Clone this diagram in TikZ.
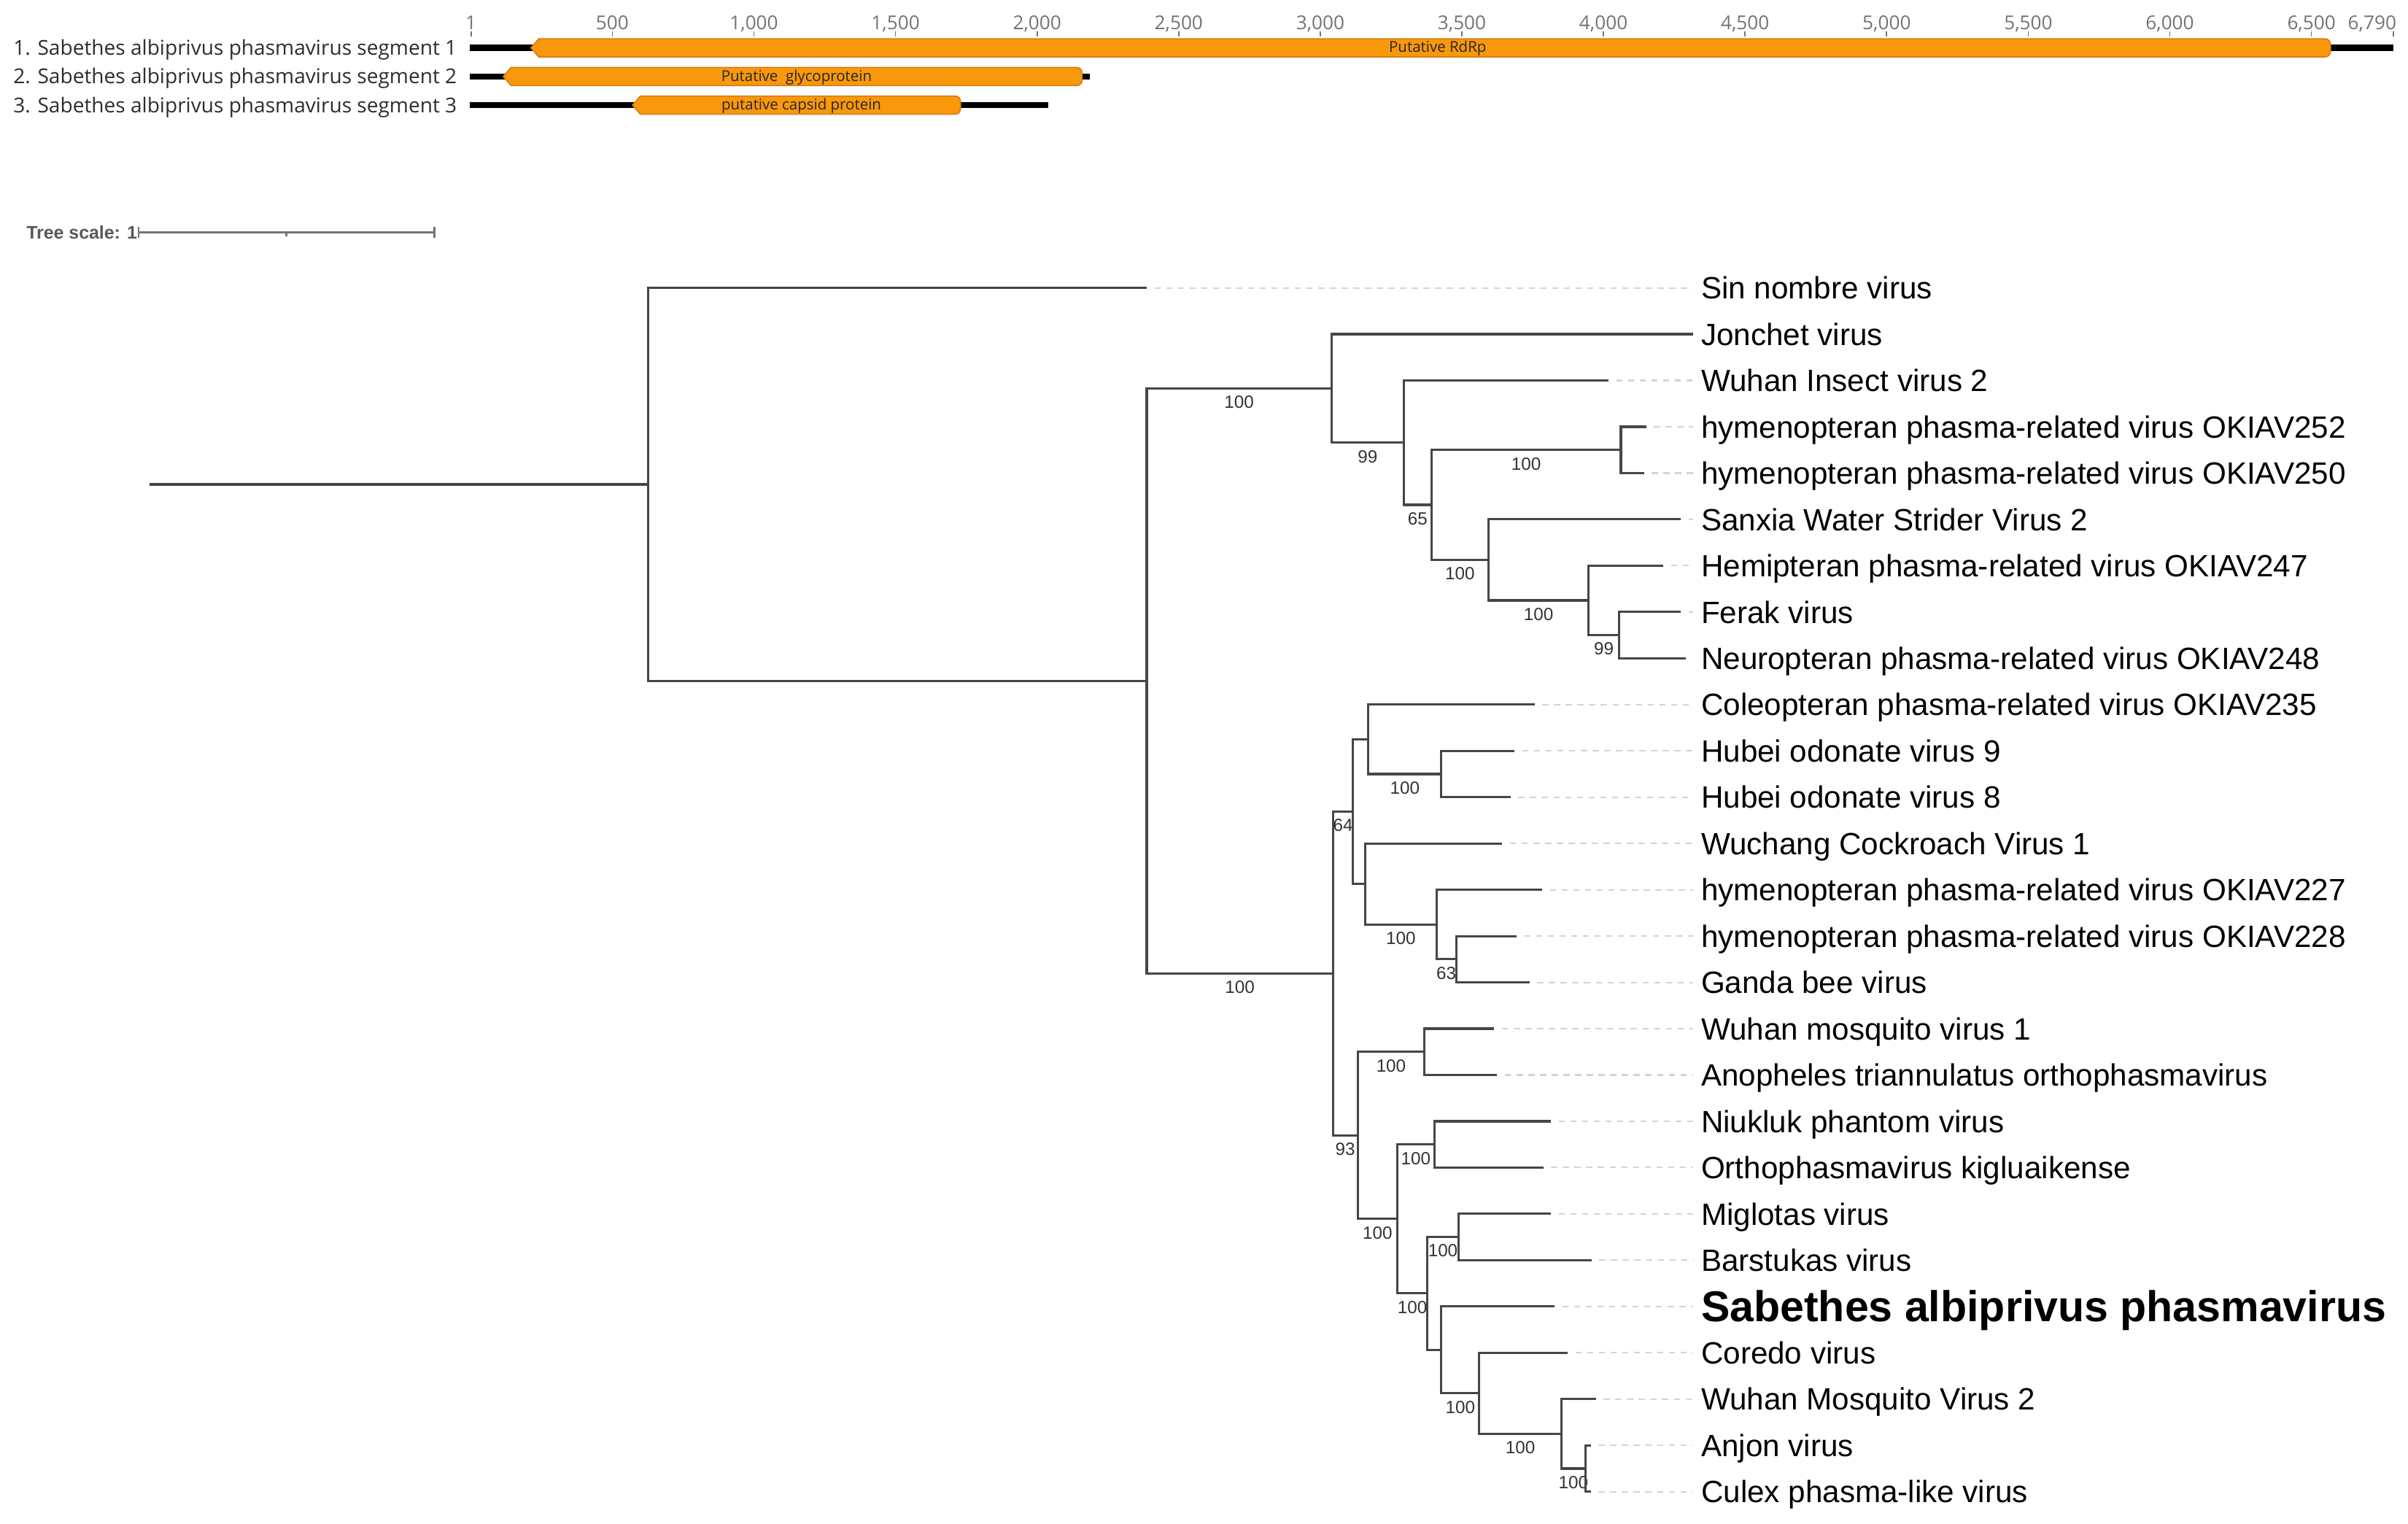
\documentclass[tikz,border=0pt]{standalone}
\usepackage{fontspec}
\setmainfont{Liberation Sans}
\newfontfamily\osans{Open Sans}
\definecolor{orf}{RGB}{248,152,10}
\definecolor{orfedge}{RGB}{215,128,20}
\definecolor{branchc}{RGB}{70,70,70}
\definecolor{leadc}{RGB}{212,212,212}
\definecolor{axisc}{RGB}{115,115,115}
\definecolor{segtext}{RGB}{45,45,45}
\tikzset{
  branch/.style={draw=branchc, line width=1.5pt},
  leader/.style={draw=leadc, line width=1pt, dash pattern=on 4pt off 3.6pt, shorten <=5pt, shorten >=5pt},
  leaf/.style={anchor=base west, inner sep=0pt, font=\fontsize{20}{24}\selectfont, yshift=-7.2pt},
  leafbold/.style={anchor=base west, inner sep=0pt, font=\fontsize{28}{32}\selectfont\bfseries, yshift=-10pt},
  boot/.style={pos=0.75, font=\fontsize{11.5}{13}\selectfont, text=black!80, inner sep=0pt, anchor=center, yshift=-9pt},
  seglab/.style={anchor=base east, inner sep=0pt, font=\osans\fontsize{13.3}{15}\selectfont, text=segtext, yshift=-4.7pt},
  segline/.style={draw=black, line width=4pt},
  orfbox/.style={fill=orf, draw=orfedge, line width=0.8pt},
  orflab/.style={inner sep=0pt, font=\osans\fontsize{9.7}{11}\selectfont, text=black!85},
  axlab/.style={anchor=base, inner sep=0pt, font=\osans\fontsize{12.4}{14}\selectfont, text=axisc},
  axtick/.style={draw=axisc, line width=0.8pt},
  scalelab/.style={anchor=west, inner sep=0pt, font=\fontsize{11.8}{13}\selectfont\bfseries, text=black!65},
  scalebar/.style={draw=black!55, line width=1.4pt}
}
\newcommand\leafd[3]{%
  \coordinate (t#1) at (#2,{187+#1*30.077});
  \node[leaf] (l#1) at (1105,{187+#1*30.077}) {#3};
  \draw[leader] (t#1) -- (t#1 -| l#1.west);}
\begin{document}
\begin{tikzpicture}[x=1pt,y=-1pt]
\useasboundingbox (0,0) rectangle (1564.4,990);

% ---------------- genome map ----------------
\foreach \v/\t/\an in {1/1/base, 500/500/base, 1000/{1,000}/base, 1500/{1,500}/base, 2000/{2,000}/base, 2500/{2,500}/base, 3000/{3,000}/base, 3500/{3,500}/base, 4000/{4,000}/base, 4500/{4,500}/base, 5000/{5,000}/base, 5500/{5,500}/base, 6000/{6,000}/base, 6500/{6,500}/base}{
  \node[axlab] (ax\v) at ({306+(\v-1)*0.18398},19) {\t};
  \draw[axtick] ({306+(\v-1)*0.18398},20.5) -- ++(0,3.2);
}
\node[axlab, anchor=base east] (ax6790) at (1557,19) {6,790};
\draw[axtick] (1555,20.5) -- ++(0,3.2);

\node[seglab] (sl1) at (297,31.1) {1. Sabethes albiprivus phasmavirus segment 1};
\node[seglab] (sl2) at (297,49.7) {2. Sabethes albiprivus phasmavirus segment 2};
\node[seglab] (sl3) at (297,68.3) {3. Sabethes albiprivus phasmavirus segment 3};

\draw[segline] (305,31.1) -- (1555,31.1);
\draw[segline] (305,49.7) -- (708,49.7);
\draw[segline] (305,68.3) -- (681,68.3);

\draw[orfbox] (345,31.1) -- (350,25.2) [rounded corners=3.5pt] -- (1514,25.2) -- (1514,37.0) [sharp corners] -- (350,37.0) -- cycle;
\draw[orfbox] (327,49.7) -- (332,43.8) [rounded corners=3.5pt] -- (703,43.8) -- (703,55.6) [sharp corners] -- (332,55.6) -- cycle;
\draw[orfbox] (411,68.3) -- (416,62.4) [rounded corners=3.5pt] -- (624,62.4) -- (624,74.2) [sharp corners] -- (416,74.2) -- cycle;

\node[orflab] (o1) at (934,31.6) {Putative RdRp};
\node[orflab] (o2) at (517.5,50.2) {Putative~~glycoprotein};
\node[orflab] (o3) at (520.6,68.8) {putative capsid protein};

% ---------------- tree scale ----------------
\node[scalelab] (tsl) at (17,151) {Tree scale: 1};
\coordinate (sb1) at (89.9,151);
\coordinate (sb2) at (282.2,151);
\coordinate (sbm) at (186,151);
\draw[scalebar] (sb1) -- (sb2);
\draw[scalebar, line width=1.1pt] (sb1) ++(0,-3.5) -- ++(0,7);
\draw[scalebar, line width=1.1pt] (sb2) ++(0,-3.5) -- ++(0,7);
\draw[scalebar, line width=1.1pt] (sbm) -- ++(0,2.5);

% ---------------- leaves ----------------
\leafd{0}{745}{Sin nombre virus}
\coordinate (t1) at (1100,{187+1*30.077});
\node[leaf] (l1) at (1105,{187+1*30.077}) {Jonchet virus};
\leafd{2}{1045}{Wuhan Insect virus 2}
\leafd{3}{1069.5}{hymenopteran phasma-related virus OKIAV252}
\leafd{4}{1068}{hymenopteran phasma-related virus OKIAV250}
\leafd{5}{1092}{Sanxia Water Strider Virus 2}
\leafd{6}{1080.5}{Hemipteran phasma-related virus OKIAV247}
\leafd{7}{1092}{Ferak virus}
\leafd{8}{1095}{Neuropteran phasma-related virus OKIAV248}
\leafd{9}{997}{Coleopteran phasma-related virus OKIAV235}
\leafd{10}{984}{Hubei odonate virus 9}
\leafd{11}{981.4}{Hubei odonate virus 8}
\leafd{12}{976}{Wuchang Cockroach Virus 1}
\leafd{13}{1002}{hymenopteran phasma-related virus OKIAV227}
\leafd{14}{985.3}{hymenopteran phasma-related virus OKIAV228}
\leafd{15}{993.7}{Ganda bee virus}
\leafd{16}{970.8}{Wuhan mosquito virus 1}
\leafd{17}{972.7}{Anopheles triannulatus orthophasmavirus}
\leafd{18}{1007.6}{Niukluk phantom virus}
\leafd{19}{1002.7}{Orthophasmavirus kigluaikense}
\leafd{20}{1007.6}{Miglotas virus}
\leafd{21}{1034}{Barstukas virus}
\coordinate (t22) at (1010,{187+22*30.077});
\node[leafbold] (l22) at (1105,{187+22*30.077}) {Sabethes albiprivus phasmavirus};
\draw[leader] (t22) -- (t22 -| l22.west);
\leafd{23}{1018.5}{Coredo virus}
\leafd{24}{1036.8}{Wuhan Mosquito Virus 2}
\leafd{25}{1033.5}{Anjon virus}
\leafd{26}{1033.5}{Culex phasma-like virus}

% ---------------- internal nodes ----------------
\coordinate (base) at (97,314.7);
\coordinate (root) at (421,314.7);
\coordinate (A) at (745,442.4);
\coordinate (B) at (865,252.35);
\coordinate (C) at (912,287.6);
\coordinate (D) at (930,327.98);
\coordinate (E) at (1053,292.25);
\coordinate (F) at (967,363.7);
\coordinate (G) at (1032,390.0);
\coordinate (H) at (1052,412.55);
\coordinate (I) at (866,632.4);
\coordinate (J) at (879,527.25);
\coordinate (L) at (889,480.25);
\coordinate (M) at (936.4,502.8);
\coordinate (N) at (887,574.25);
\coordinate (O) at (933.2,600.6);
\coordinate (P) at (946,623.15);
\coordinate (K) at (882,737.5);
\coordinate (Q) at (925.5,683.25);
\coordinate (R) at (907.8,791.8);
\coordinate (S) at (931.8,743.45);
\coordinate (T) at (927.2,840.2);
\coordinate (U) at (947.6,803.55);
\coordinate (V) at (936.4,876.9);
\coordinate (W) at (961,905.1);
\coordinate (X) at (1014.4,931.4);
\coordinate (Y) at (1030,953.95);

% ---------------- branches ----------------
\draw[branch] (base) -- (root);
\draw[branch] (root) |- (t0);
\draw[branch] (root) |- (A);
\draw[branch] (A) |- node[boot] (bB) {100} (B);
\draw[branch] (A) |- node[boot] (bI) {100} (I);
\draw[branch] (B) |- (t1);
\draw[branch] (B) |- node[boot] (bC) {99} (C);
\draw[branch] (C) |- (t2);
\draw[branch] (C) |- node[boot] (bD) {65} (D);
\draw[branch] (D) |- node[boot] (bE) {100} (E);
\draw[branch] (D) |- node[boot] (bF) {100} (F);
\draw[branch] (E) |- (t3);
\draw[branch] (E) |- (t4);
\draw[branch] (F) |- (t5);
\draw[branch] (F) |- node[boot] (bG) {100} (G);
\draw[branch] (G) |- (t6);
\draw[branch] (G) |- node[boot] (bH) {99} (H);
\draw[branch] (H) |- (t7);
\draw[branch] (H) |- (t8);
\draw[branch] (I) |- node[boot] (bJ) {64} (J);
\draw[branch] (I) |- node[boot] (bK) {93} (K);
\draw[branch] (J) |- (L);
\draw[branch] (J) |- (N);
\draw[branch] (L) |- (t9);
\draw[branch] (L) |- node[boot] (bM) {100} (M);
\draw[branch] (M) |- (t10);
\draw[branch] (M) |- (t11);
\draw[branch] (N) |- (t12);
\draw[branch] (N) |- node[boot] (bO) {100} (O);
\draw[branch] (O) |- (t13);
\draw[branch] (O) |- node[boot] (bP) {63} (P);
\draw[branch] (P) |- (t14);
\draw[branch] (P) |- (t15);
\draw[branch] (K) |- node[boot] (bQ) {100} (Q);
\draw[branch] (K) |- node[boot] (bR) {100} (R);
\draw[branch] (Q) |- (t16);
\draw[branch] (Q) |- (t17);
\draw[branch] (R) |- node[boot] (bS) {100} (S);
\draw[branch] (R) |- node[boot] (bT) {100} (T);
\draw[branch] (S) |- (t18);
\draw[branch] (S) |- (t19);
\draw[branch] (T) |- node[boot] (bU) {100} (U);
\draw[branch] (T) |- (V);
\draw[branch] (U) |- (t20);
\draw[branch] (U) |- (t21);
\draw[branch] (V) |- (t22);
\draw[branch] (V) |- node[boot] (bW) {100} (W);
\draw[branch] (W) |- (t23);
\draw[branch] (W) |- node[boot] (bX) {100} (X);
\draw[branch] (X) |- (t24);
\draw[branch] (X) |- node[boot] (bY) {100} (Y);
\draw[branch] (Y) |- (t25);
\draw[branch] (Y) |- (t26);
\end{tikzpicture}
\end{document}
